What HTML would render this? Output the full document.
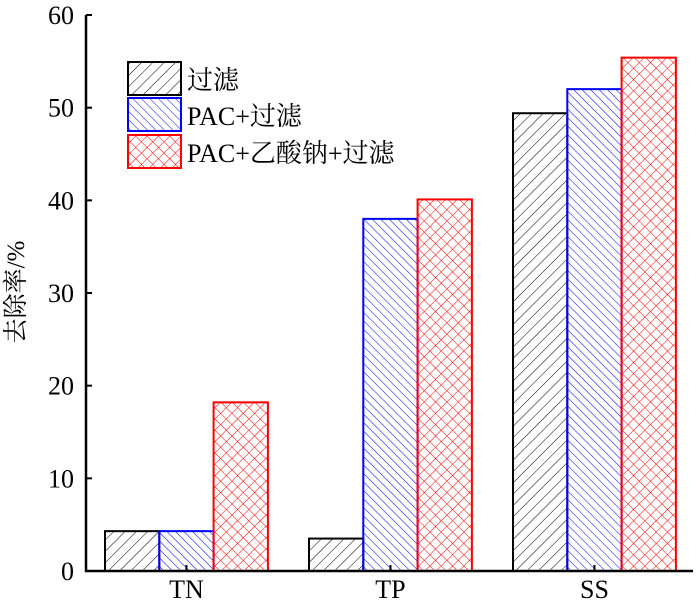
<!DOCTYPE html>
<html><head><meta charset="utf-8"><style>
body{margin:0;background:#fff;}
svg{display:block;font-family:"Liberation Serif","Noto Serif CJK SC",serif;}
</style></head><body>
<svg id="c" width="700" height="601" viewBox="0 0 700 601">
<defs>
<pattern id="pk" patternUnits="userSpaceOnUse" width="8" height="8" patternTransform="rotate(45)"><line x1="0" y1="0" x2="0" y2="8" stroke="#000" stroke-width="1"/></pattern>
<pattern id="pb" patternUnits="userSpaceOnUse" width="6" height="6" patternTransform="rotate(-45)"><line x1="0" y1="0" x2="0" y2="6" stroke="#00f" stroke-width="1"/></pattern>
<pattern id="pr" patternUnits="userSpaceOnUse" width="8" height="8" patternTransform="rotate(45)"><line x1="0" y1="0" x2="0" y2="8" stroke="#f00" stroke-width="1"/><line x1="0" y1="0" x2="8" y2="0" stroke="#f00" stroke-width="1"/></pattern>
</defs>
<g id="bars"></g>
<g id="axes"></g>
<g>
<rect x="128" y="62" width="53" height="33" fill="url(#pk)" stroke="#000" stroke-width="2"/>
<text x="187" y="89" font-size="26">过滤</text>
<rect x="128" y="98" width="53" height="33" fill="url(#pb)" stroke="#00f" stroke-width="2"/>
<text x="187" y="125" font-size="26">PAC+过滤</text>
<rect x="128" y="135" width="53" height="33" fill="url(#pr)" stroke="#f00" stroke-width="2"/>
<text x="187" y="162" font-size="26">PAC+乙酸钠+过滤</text>
</g>
<text transform="translate(24,292) rotate(-90)" text-anchor="middle" font-size="25">去除率/%</text>
</svg>
<script>
const categories=["TN","TP","SS"];
const seriesFilter=[4.3,3.5,49.4];
const seriesPac=[4.3,38.0,52.0];
const seriesPacAcetate=[18.2,40.1,55.4];
const yTicks=[0,10,20,30,40,50,60];
const NS="http://www.w3.org/2000/svg";
const x0=86,x1=693,yBase=571,yTop=15,yMax=60;
const y=v=>yBase-(yBase-yTop)*v/yMax;
const catW=204,catStart=105;
const groupLeft=i=>catStart+catW*i;
const barW=54.3;
function mk(t,a,p){const e=document.createElementNS(NS,t);for(const k in a)e.setAttribute(k,a[k]);p.appendChild(e);return e;}
const bars=document.getElementById('bars'),axes=document.getElementById('axes');
const series=[[seriesFilter,"#000","url(#pk)","filter"],[seriesPac,"#00f","url(#pb)","pac"],[seriesPacAcetate,"#f00","url(#pr)","pac-acetate"]];
categories.forEach((c,i)=>{
  series.forEach((s,j)=>{
    const v=s[0][i];
    const r=mk('rect',{x:groupLeft(i)+j*barW,y:y(v),width:barW,height:yBase-y(v),fill:s[2],stroke:s[1],'stroke-width':2},bars);
    
    
  });
  const cx=groupLeft(i)+1.5*barW;
  const tk=mk('line',{x1:cx,x2:cx,y1:yBase,y2:yBase-6,stroke:'#000','stroke-width':2},axes);
  
  
  const t=mk('text',{x:cx,y:yBase+27,'text-anchor':'middle','font-size':26},axes);
  t.textContent=c;
  
  
});
const ya=mk('line',{x1:x0,x2:x0,y1:yTop,y2:yBase+1,stroke:'#000','stroke-width':2.5},axes);


const xa=mk('line',{x1:x0-1,x2:x1,y1:yBase,y2:yBase,stroke:'#000','stroke-width':2.5},axes);


yTicks.forEach(v=>{
  const l=mk('line',{x1:x0,x2:x0+6,y1:y(v),y2:y(v),stroke:'#000','stroke-width':2},axes);
  
  
  const t=mk('text',{x:x0-12,y:y(v)+9,'text-anchor':'end','font-size':26},axes);
  t.textContent=v;
  
  
});
</script>
</body></html>
